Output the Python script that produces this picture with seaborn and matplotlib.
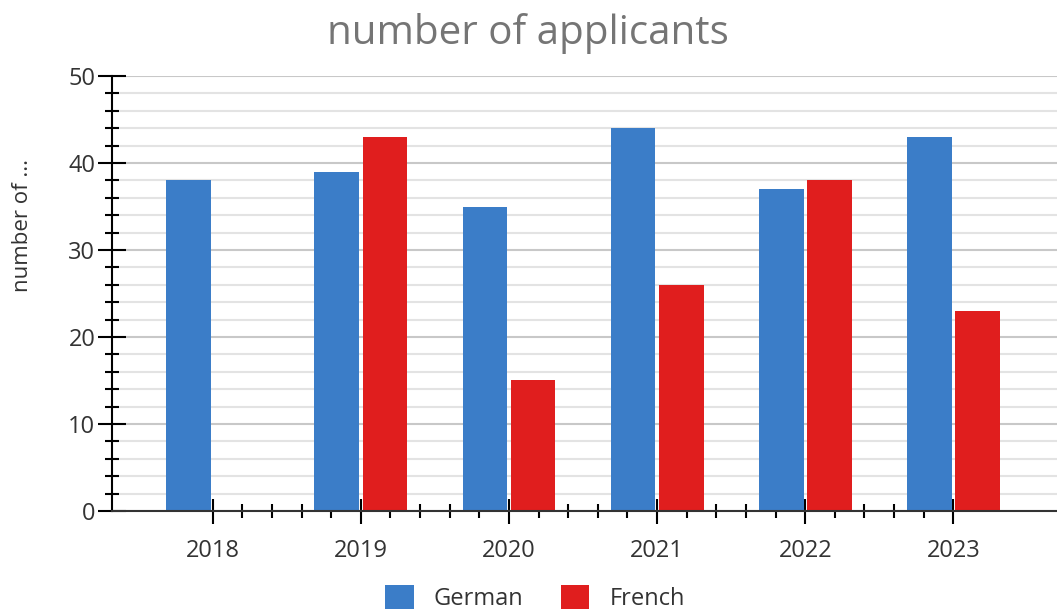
import numpy as np
import pandas as pd
import matplotlib
matplotlib.use("Agg")
import matplotlib.pyplot as plt
import seaborn as sns
from matplotlib.ticker import MultipleLocator, FixedLocator

# ----------------------
# data
# ----------------------
years = ["2018", "2019", "2020", "2021", "2022", "2023"]
german = [38, 39, 35, 44, 37, 43]
french = [np.nan, 43, 15, 26, 38, 23]
series_names = ["German", "French"]
colors = ["#3b7dc8", "#e01e1e"]

df = pd.DataFrame({
    "year": years * 2,
    "value": german + french,
    "language": [series_names[0]] * len(years) + [series_names[1]] * len(years),
})

sns.set_theme(style="white")
plt.rcParams["font.family"] = ["Open Sans", "DejaVu Sans"]

fig = plt.figure(figsize=(10.57, 6.10), dpi=100)
ax = fig.add_axes([0.106, 0.1623, 0.894, 0.7131])

sns.barplot(data=df, x="year", y="value", hue="language", order=years,
            hue_order=series_names, palette=colors, width=0.65, gap=0.07,
            saturation=1, linewidth=0, ax=ax, legend=False)

# axes limits
ax.set_ylim(0, 50)
ax.set_xlim(-0.68, 5.70)

# y ticks: major every 10, minor every 2
ax.yaxis.set_major_locator(MultipleLocator(10))
ax.yaxis.set_minor_locator(MultipleLocator(2))
ax.grid(axis="y", which="major", color="#c8c8c8", linewidth=1.5, zorder=0)
ax.grid(axis="y", which="minor", color="#e3e3e3", linewidth=1.5, zorder=0)
ax.grid(axis="x", which="both", visible=False)
ax.set_axisbelow(True)

# x ticks: major at categories, minor at fifths in between
minor_x = [v for v in np.arange(0, 5.01, 0.2) if abs(v - round(v)) > 1e-6]
ax.xaxis.set_minor_locator(FixedLocator(minor_x))

ax.tick_params(axis="y", which="major", direction="inout", length=20, width=1.5,
               color="black", labelsize=17, labelcolor="#333333", pad=2, left=True)
ax.tick_params(axis="y", which="minor", direction="inout", length=10, width=1.5,
               color="black", left=True)
ax.tick_params(axis="x", which="major", direction="inout", length=18, width=1.5,
               color="black", labelsize=17, labelcolor="#333333", pad=11, bottom=True)
ax.tick_params(axis="x", which="minor", direction="inout", length=10, width=1.5,
               color="black", bottom=True)

for side in ["top", "right"]:
    ax.spines[side].set_visible(False)
ax.spines["left"].set_color("black")
ax.spines["left"].set_linewidth(1.5)
ax.spines["bottom"].set_color("#333333")
ax.spines["bottom"].set_linewidth(1.5)

ax.set_xlabel("")
ax.set_ylabel("")

# title and y label
fig.text(528 / 1057, 1 - 33 / 610, "number of applicants", ha="center", va="center",
         fontsize=29, color="#757575")
fig.text(22 / 1057, 1 - 225 / 610, "number of ...", rotation=90, ha="center",
         va="center", fontsize=16, color="#333333")

# legend at the bottom
handles = [plt.Rectangle((0, 0), 1, 1, facecolor=c, edgecolor="none") for c in colors]
fig.legend(handles, series_names, loc="center", bbox_to_anchor=(535 / 1057, 1 - 598 / 610),
           ncol=2, frameon=False, fontsize=17, handlelength=1.2, handleheight=1.2,
           handletextpad=0.85, columnspacing=1.6, labelcolor="#333333")

fig.savefig("out.png", dpi=100)
